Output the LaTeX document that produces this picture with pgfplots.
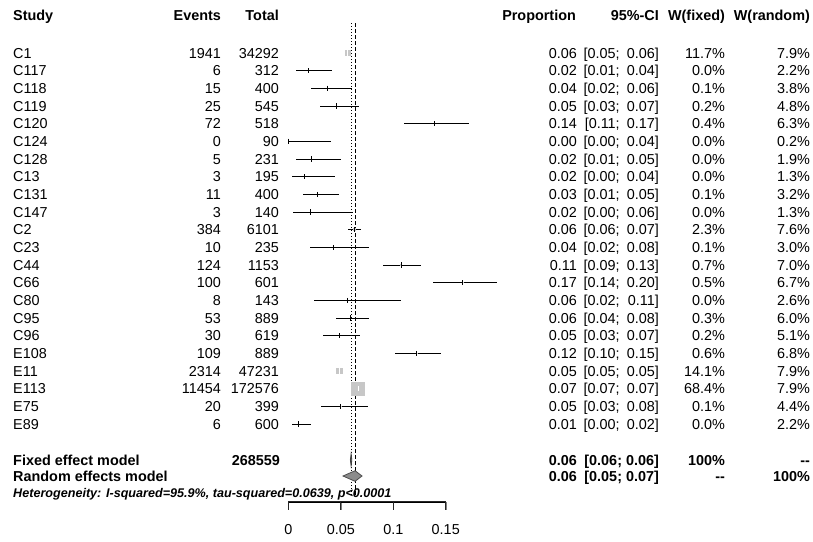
\documentclass[border=0pt]{standalone}
\usepackage{fontspec}
\setmainfont{Liberation Sans}
\usepackage{pgfplots}
\usepackage{pgfplotstable}
\pgfplotsset{compat=1.18}

\newcommand\fs{\fontsize{14.4bp}{17bp}\selectfont}
\newcommand\fss{\fontsize{12.6bp}{15bp}\selectfont}

% y: row position counted from the bottom (E89 = 1, C1 = 22)
% sq: side of the weight square in bp (grows with sqrt of the fixed weight)
\pgfplotstableread[col sep=comma]{
study,events,total,y,p,lo,hi,wf,wr,ptxt,cil,cih,in,sq
C1,1941,34292,22,0.0566,0.0542,0.0591,11.7,7.9,0.06,0.05,0.06,1,5.8
C117,6,312,21,0.0192,0.0071,0.0414,0.0,2.2,0.02,0.01,0.04,0,0
C118,15,400,20,0.0375,0.0212,0.0610,0.1,3.8,0.04,0.02,0.06,0,0.5
C119,25,545,19,0.0459,0.0299,0.0670,0.2,4.8,0.05,0.03,0.07,0,0.8
C120,72,518,18,0.1390,0.1102,0.1720,0.4,6.3,0.14,0.11,0.17,0,1.1
C124,0,90,17,0.0,0.0,0.0402,0.0,0.2,0.00,0.00,0.04,0,0
C128,5,231,16,0.0216,0.0071,0.0498,0.0,1.9,0.02,0.01,0.05,0,0
C13,3,195,15,0.0154,0.0032,0.0443,0.0,1.3,0.02,0.00,0.04,0,0
C131,11,400,14,0.0275,0.0138,0.0487,0.1,3.2,0.03,0.01,0.05,0,0.5
C147,3,140,13,0.0214,0.0044,0.0613,0.0,1.3,0.02,0.00,0.06,0,0
C2,384,6101,12,0.0629,0.0569,0.0694,2.3,7.6,0.06,0.06,0.07,0,2.6
C23,10,235,11,0.0426,0.0206,0.0769,0.1,3.0,0.04,0.02,0.08,0,0.5
C44,124,1153,10,0.1075,0.0903,0.1268,0.7,7.0,0.11,0.09,0.13,0,1.4
C66,100,601,9,0.1664,0.1375,0.1985,0.5,6.7,0.17,0.14,0.20,0,1.2
C80,8,143,8,0.0559,0.0244,0.1072,0.0,2.6,0.06,0.02,0.11,0,0
C95,53,889,7,0.0596,0.0450,0.0773,0.3,6.0,0.06,0.04,0.08,0,0.9
C96,30,619,6,0.0485,0.0329,0.0685,0.2,5.1,0.05,0.03,0.07,0,0.8
E108,109,889,5,0.1226,0.1018,0.1459,0.6,6.8,0.12,0.10,0.15,0,1.3
E11,2314,47231,4,0.0490,0.0470,0.0510,14.1,7.9,0.05,0.05,0.05,1,6.6
E113,11454,172576,3,0.0664,0.0652,0.0676,68.4,7.9,0.07,0.07,0.07,1,14.2
E75,20,399,2,0.0501,0.0309,0.0763,0.1,4.4,0.05,0.03,0.08,0,0.5
E89,6,600,1,0.0100,0.0037,0.0216,0.0,2.2,0.01,0.00,0.02,0,0
}\studies

\tikzset{
  cellL/.style={anchor=base west, yshift=-5.1bp, inner sep=0pt, font=\fs},
  cellR/.style={anchor=base east, yshift=-5.1bp, inner sep=0pt, font=\fs},
  hd/.style={font={\fs\bfseries}},
}

% one text column of the table
\newcommand\tcol[4]{%
  \addplot[draw=none, mark=none, nodes near coords={#4},
    point meta=explicit symbolic,
    every node near coord/.append style={#1}]
    table[x expr=#2, y=y, meta=#3]{\studies};}

\pgfplotsset{
  fp/.style={width=157.4bp, height=502bp, scale only axis,
    xmin=0, xmax=0.15, ymin=-3.41, ymax=25.0},
}

\begin{document}
\begin{tikzpicture}
% tick labels of the x axis
\begin{axis}[fp,
  axis x line*=bottom, axis y line=none,
  xtick={0,0.05,0.1,0.15}, xticklabels={0,0.05,0.1,0.15},
  ytick=\empty,
  tick align=outside, major tick length=8bp,
  xticklabel style={font=\fs, yshift=-11bp},
]
\addplot[draw=none] coordinates {(0,0) (0.15,0)};
\end{axis}

\begin{axis}[fp, hide axis, clip=false]
% x axis line with its end ticks, and the two inner ticks
\addplot[black!85, line width=1.1bp, line join=miter]
  coordinates {(0,-3.86) (0,-3.40) (0.15,-3.40) (0.15,-3.86)};
\addplot[black!85, line width=1.1bp] coordinates {(0.05,-3.40) (0.05,-3.86)};
\addplot[black!85, line width=1.1bp] coordinates {(0.1,-3.40) (0.1,-3.86)};

% reference lines: fixed (dotted) and random (dashed)
\addplot[black, line width=1bp, dash pattern=on 1bp off 2bp] coordinates {(0.0598,-3.0) (0.0598,23.7)};
\addplot[black, line width=1bp, dash pattern=on 4bp off 2bp] coordinates {(0.0636,-3.0) (0.0636,23.7)};

% weight squares
\addplot[draw=none, mark=none, nodes near coords={},
  point meta=explicit symbolic,
  visualization depends on={\thisrow{sq} \as \sqsz},
  every node near coord/.append style={anchor=center, inner sep=0pt,
    outer sep=0pt, fill=black!22, minimum size=\sqsz bp}]
  table[x=p, y=y, meta=study]{\studies};

% confidence intervals
\addplot[draw=none, mark=none,
  restrict expr to domain={\thisrow{in}}{0:0},
  error bars/.cd, x dir=both, x explicit, error mark=none,
  error bar style={line width=1bp, black}]
  table[x=p, y=y, x error plus expr=\thisrow{hi}-\thisrow{p},
    x error minus expr=\thisrow{p}-\thisrow{lo}]{\studies};
\addplot[draw=none, mark=none,
  restrict expr to domain={\thisrow{in}}{1:1},
  error bars/.cd, x dir=both, x explicit, error mark=none,
  error bar style={line width=1bp, white}]
  table[x=p, y=y, x error plus expr=\thisrow{hi}-\thisrow{p},
    x error minus expr=\thisrow{p}-\thisrow{lo}]{\studies};
% point estimates
\addplot[only marks, mark=|, mark size=2.6bp, black, line width=1bp,
  restrict expr to domain={\thisrow{in}}{0:0}]
  table[x=p, y=y]{\studies};
\addplot[only marks, mark=|, mark size=2.6bp, white, line width=1bp,
  restrict expr to domain={\thisrow{in}}{1:1}]
  table[x=p, y=y]{\studies};

% pooled estimates
\addplot[fill=black!45, draw=black!75, line width=0.8bp] coordinates {(0.0591,-1.03) (0.0598,-0.69) (0.0605,-1.03) (0.0598,-1.37)} -- cycle;
\addplot[fill=black!45, draw=black!70, line width=0.8bp] coordinates {(0.0521,-1.94) (0.0636,-1.64) (0.0702,-1.94) (0.0636,-2.24)} -- cycle;

% text columns
\tcol{cellL}{-0.2624}{study}{\pgfplotspointmeta}
\tcol{cellR}{-0.0641}{events}{\pgfplotspointmeta}
\tcol{cellR}{-0.0089}{total}{\pgfplotspointmeta}
\tcol{cellR}{0.2751}{ptxt}{\pgfplotspointmeta}
\tcol{cellR}{0.3160}{cil}{{[}\pgfplotspointmeta;}
\tcol{cellR}{0.3533}{cih}{\pgfplotspointmeta{]}}
\tcol{cellR}{0.4162}{wf}{\pgfplotspointmeta\%}
\tcol{cellR}{0.4972}{wr}{\pgfplotspointmeta\%}

% header
\node[cellL, hd] at (axis cs:-0.2624,24.15) {Study};
\node[cellR, hd] at (axis cs:-0.0641,24.15) {Events};
\node[cellR, hd] at (axis cs:-0.0089,24.15) {Total};
\node[cellR, hd] at (axis cs:0.2742,24.15) {Proportion};
\node[cellR, hd] at (axis cs:0.3533,24.15) {95\%-CI};
\node[cellR, hd] at (axis cs:0.4162,24.15) {W(fixed)};
\node[cellR, hd] at (axis cs:0.4972,24.15) {W(random)};

% summary rows
\node[cellL, hd] at (axis cs:-0.2624,-1.03) {Fixed effect model};
\node[cellR, hd] at (axis cs:-0.0079,-1.03) {268559};
\node[cellR, hd] at (axis cs:0.2751,-1.03) {0.06};
\node[cellR, hd] at (axis cs:0.3533,-1.03) {{[}0.06; 0.06{]}};
\node[cellR, hd] at (axis cs:0.4162,-1.03) {100\%};
\node[cellR, hd] at (axis cs:0.4972,-1.03) {-{}-};
\node[cellL, hd] at (axis cs:-0.2624,-1.94) {Random effects model};
\node[cellR, hd] at (axis cs:0.2751,-1.94) {0.06};
\node[cellR, hd] at (axis cs:0.3533,-1.94) {{[}0.05; 0.07{]}};
\node[cellR, hd] at (axis cs:0.4162,-1.94) {-{}-};
\node[cellR, hd] at (axis cs:0.4972,-1.94) {100\%};
\node[anchor=base west, yshift=-4.5bp, inner sep=0pt, font={\fss\bfseries\itshape}]
  at (axis cs:-0.2624,-2.9) {Heterogeneity: I-squared=95.9\%, tau-squared=0.0639, p<0.0001};

\coordinate (pbl) at (axis cs:-0.2748,-5.67);
\coordinate (ptr) at (axis cs:0.5000,25.0);
\end{axis}
\pgfresetboundingbox
\useasboundingbox (pbl) rectangle (ptr);
\end{tikzpicture}
\end{document}
